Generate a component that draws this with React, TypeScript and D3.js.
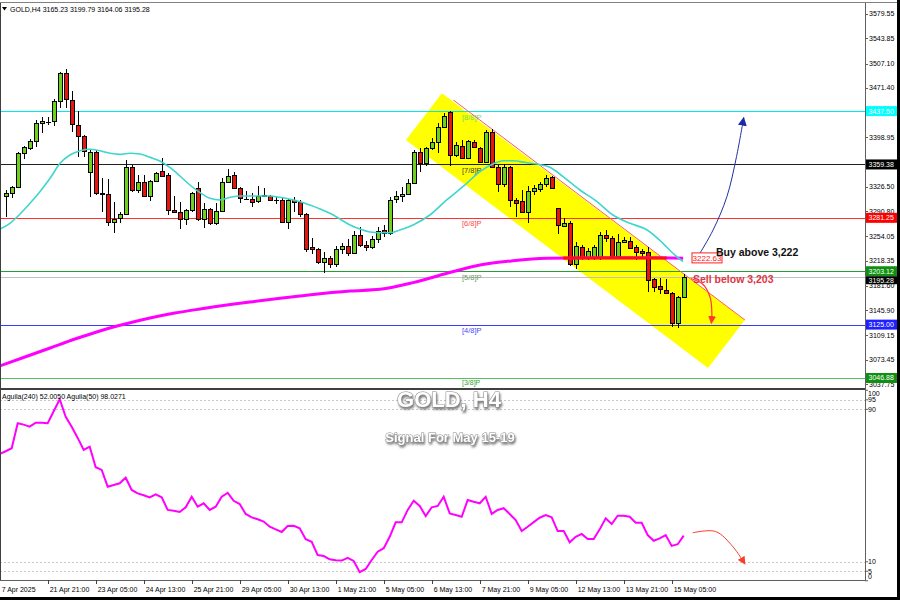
import * as d3 from "d3";

// H4 candles, bar 0 = 21 Apr 01:00 ... bar 113 = 15 May 13:00  [open, high, low, close]
const candles: [number, number, number, number][] = [
  [3313.2, 3322.0, 3283.0, 3318.1], [3318.1, 3327.9, 3309.9, 3325.9], [3326.8, 3378.1, 3325.4, 3375.7],
  [3375.7, 3386.4, 3367.8, 3384.5], [3383.9, 3396.2, 3380.6, 3393.7], [3393.3, 3424.4, 3385.4, 3419.6],
  [3419.6, 3428.4, 3405.0, 3422.5], [3422.0, 3428.4, 3416.7, 3421.5], [3422.5, 3455.6, 3415.7, 3451.8],
  [3451.8, 3495.1, 3441.5, 3493.7], [3493.7, 3498.6, 3441.5, 3454.7], [3453.7, 3467.3, 3407.3, 3418.1],
  [3417.1, 3437.6, 3370.7, 3401.0], [3401.0, 3402.0, 3370.7, 3379.5], [3347.9, 3380.6, 3311.3, 3378.1],
  [3378.1, 3380.6, 3314.7, 3317.2], [3317.5, 3339.1, 3290.3, 3316.8], [3316.2, 3337.6, 3269.8, 3274.8],
  [3274.8, 3304.9, 3258.7, 3279.6], [3280.6, 3290.3, 3273.3, 3286.9], [3286.9, 3365.9, 3285.4, 3356.1],
  [3356.1, 3358.6, 3319.5, 3322.0], [3322.0, 3344.0, 3317.2, 3334.1], [3334.1, 3344.0, 3311.2, 3313.2],
  [3313.2, 3336.6, 3306.4, 3335.6], [3335.6, 3348.8, 3334.1, 3347.3], [3349.8, 3369.3, 3341.5, 3342.9],
  [3344.0, 3346.4, 3285.4, 3292.8], [3292.8, 3313.2, 3287.9, 3290.3], [3290.3, 3304.9, 3264.5, 3279.1],
  [3279.1, 3294.2, 3270.8, 3292.8], [3292.8, 3319.0, 3290.3, 3318.1], [3324.5, 3334.1, 3276.6, 3279.1],
  [3279.1, 3302.5, 3265.9, 3293.8], [3293.8, 3295.2, 3270.8, 3273.3], [3273.3, 3302.5, 3270.8, 3291.3],
  [3291.3, 3339.1, 3290.3, 3334.1], [3334.1, 3352.3, 3332.7, 3342.9], [3344.0, 3347.9, 3323.0, 3324.5],
  [3325.4, 3326.8, 3303.4, 3309.9], [3308.8, 3320.5, 3307.4, 3308.4], [3308.4, 3317.2, 3297.6, 3304.9],
  [3305.9, 3328.3, 3302.5, 3313.2], [3313.2, 3325.4, 3311.3, 3314.7], [3313.2, 3314.7, 3305.9, 3307.4],
  [3307.4, 3312.2, 3301.6, 3306.9], [3307.4, 3312.2, 3273.3, 3274.8], [3274.8, 3308.4, 3264.9, 3307.4],
  [3307.4, 3312.2, 3290.3, 3304.0], [3304.0, 3307.4, 3283.0, 3286.9], [3286.9, 3287.9, 3231.7, 3235.7],
  [3238.2, 3251.3, 3227.9, 3235.2], [3235.2, 3236.7, 3213.7, 3216.2], [3216.2, 3231.7, 3200.1, 3222.1],
  [3222.1, 3225.0, 3208.0, 3213.7], [3213.7, 3240.0, 3210.0, 3235.0], [3235.0, 3245.0, 3228.0, 3240.0],
  [3240.0, 3250.0, 3225.0, 3230.0], [3230.0, 3262.0, 3228.0, 3256.0], [3256.0, 3268.0, 3238.0, 3242.0],
  [3242.0, 3248.0, 3232.0, 3238.0], [3238.0, 3255.0, 3235.0, 3250.0], [3250.0, 3268.0, 3245.0, 3262.0],
  [3263.5, 3270.8, 3253.7, 3258.7], [3258.7, 3311.3, 3256.2, 3307.4], [3308.4, 3321.0, 3303.4, 3313.2],
  [3313.2, 3326.8, 3304.9, 3316.2], [3316.2, 3337.6, 3314.7, 3332.7], [3332.7, 3380.6, 3331.8, 3378.1],
  [3378.1, 3383.0, 3348.8, 3361.1], [3361.1, 3385.4, 3357.1, 3383.0], [3383.0, 3397.6, 3380.6, 3392.7],
  [3392.7, 3419.6, 3376.6, 3413.8], [3413.8, 3434.2, 3412.3, 3430.3], [3436.6, 3438.0, 3357.1, 3373.2],
  [3373.2, 3392.7, 3370.7, 3387.9], [3386.4, 3395.2, 3368.4, 3369.3], [3369.3, 3395.2, 3368.4, 3393.7],
  [3392.7, 3395.2, 3383.0, 3384.5], [3383.0, 3385.4, 3362.0, 3363.4], [3363.4, 3409.8, 3362.0, 3407.3],
  [3407.3, 3410.8, 3353.8, 3356.1], [3355.2, 3358.6, 3319.5, 3330.8], [3330.8, 3360.0, 3326.8, 3355.2],
  [3355.2, 3357.1, 3297.6, 3307.4], [3307.4, 3309.9, 3283.0, 3303.4], [3305.9, 3322.0, 3288.8, 3290.3],
  [3290.3, 3327.9, 3274.2, 3321.0], [3321.0, 3329.3, 3314.7, 3324.5], [3323.5, 3334.1, 3319.5, 3330.3],
  [3330.3, 3344.0, 3325.9, 3339.1], [3340.6, 3342.5, 3323.0, 3324.5], [3295.2, 3295.2, 3257.7, 3270.8],
  [3269.3, 3280.6, 3268.0, 3274.2], [3274.2, 3277.1, 3211.3, 3213.7], [3213.7, 3246.4, 3206.0, 3240.1],
  [3239.0, 3241.5, 3219.6, 3222.1], [3222.1, 3236.7, 3219.6, 3233.2], [3222.1, 3241.5, 3219.6, 3239.0],
  [3222.1, 3261.0, 3219.6, 3256.2], [3256.2, 3263.5, 3246.4, 3252.2], [3252.2, 3254.7, 3224.4, 3225.9],
  [3225.9, 3257.7, 3224.4, 3246.4], [3245.5, 3253.7, 3244.5, 3248.8], [3247.8, 3253.7, 3235.2, 3237.6],
  [3238.2, 3241.5, 3219.6, 3231.7], [3232.7, 3235.2, 3224.4, 3230.2], [3230.8, 3239.0, 3173.2, 3190.4],
  [3191.3, 3192.8, 3173.2, 3180.5], [3181.5, 3192.8, 3169.8, 3176.7], [3175.7, 3191.3, 3169.8, 3170.8],
  [3170.8, 3173.2, 3121.9, 3127.8], [3127.8, 3167.4, 3119.5, 3165.0], [3165.23, 3199.79, 3164.06, 3195.28],
];

// 20-period MA (cyan), read at bar positions
const fastMaBars = [-1, 0.7, 2.4, 4.05, 5.7, 7.4, 9.05, 10.7, 12.4, 14.05, 15.7, 17.4, 19.05, 20.7, 22.4, 24.05, 25.7, 27.4, 29.05, 30.7, 32.4, 34.05, 35.7, 37.4, 39.05, 40.7, 42.4, 44.05, 45.7, 47.4, 49.05, 50.7, 52.4, 54.05, 55.7, 57.4, 59.05, 60.7, 62.4, 64.05, 65.7, 67.9, 70.7, 73.5, 76.2, 79.05, 81.2, 82.9, 84.55, 86.9, 88.55, 90.7, 92.9, 95.7, 98.55, 101.2, 104.05, 106.9, 109.55, 111.2, 112.9];
const fastMaVals = [3264.5, 3273.3, 3286.9, 3302.5, 3319.5, 3339.1, 3361.1, 3373.2, 3379.5, 3381.6, 3379.5, 3375.7, 3374.2, 3375.7, 3374.7, 3369.9, 3364.4, 3354.6, 3342.5, 3329.3, 3318.1, 3309.9, 3307.4, 3311.3, 3313.2, 3313.2, 3313.2, 3313.2, 3311.3, 3308.4, 3304.9, 3300.0, 3294.2, 3287.9, 3279.6, 3270.8, 3264.9, 3260.6, 3259.5, 3259.5, 3263.5, 3270.8, 3285.4, 3307.4, 3326.8, 3348.8, 3360.0, 3364.9, 3364.9, 3361.9, 3360.0, 3355.2, 3341.5, 3322.0, 3304.9, 3285.4, 3273.3, 3263.5, 3244.0, 3229.4, 3217.1];

// 240-period MA (magenta)
const slowMaBars = [-1, 3.2, 7.4, 11.55, 15.7, 19.9, 24.05, 28.2, 32.4, 40.7, 49.05, 57.4, 62.4, 67.9, 73.55, 79.05, 84.55, 90.2, 99.05, 107.4, 112.9];
const slowMaVals = [3064.5, 3077.6, 3090.8, 3103.9, 3115.7, 3125.9, 3134.7, 3142.0, 3147.9, 3158.1, 3166.9, 3174.2, 3176.7, 3186.4, 3200.1, 3212.3, 3218.5, 3222.0, 3222.9, 3222.9, 3222.2];

// Aguila oscillator, first value is bar -1
const aguilaStart = -1;
const aguila = [66.6, 68.0, 69.6, 82.7, 82.0, 80.9, 83.0, 83.0, 82.7, 89.0, 95.3, 86.1, 80.9, 75.0, 68.7, 70.4, 59.6, 58.2, 49.4, 50.3, 51.2, 54.1, 47.7, 45.9, 44.9, 43.8, 45.4, 43.8, 37.2, 36.8, 36.1, 38.6, 44.1, 38.9, 40.7, 37.2, 38.9, 44.1, 46.2, 42.0, 40.3, 35.1, 33.3, 32.3, 31.1, 28.4, 27.0, 25.6, 28.8, 28.9, 27.6, 21.8, 20.5, 13.5, 13.0, 11.3, 10.8, 10.6, 12.1, 10.4, 4.5, 6.2, 10.9, 15.3, 17.1, 23.1, 30.7, 30.7, 37.2, 42.0, 39.3, 34.0, 38.6, 39.3, 44.1, 35.4, 34.5, 33.6, 42.4, 41.5, 40.7, 44.1, 35.1, 37.2, 38.1, 35.1, 31.9, 26.1, 28.4, 30.8, 33.1, 34.5, 33.3, 26.1, 26.1, 20.2, 23.1, 24.6, 21.9, 21.9, 27.0, 32.8, 29.8, 34.2, 34.2, 33.6, 30.5, 30.5, 24.0, 21.0, 22.3, 24.0, 18.3, 19.2, 23.7];

// Murrey math levels
const levelVals = [3437.5, 3359.38, 3281.25, 3203.12, 3125.0, 3046.88];
const levelNames = ["[8/8]P", "[7/8]P", "[6/8]P", "[5/8]P", "[4/8]P", "[3/8]P"];
const levelLine = ["#00e8f0", "#202020", "#ff3030", "#23a035", "#3a3aff", "#58c058"];
const levelText = ["#6fe05a", "#404040", "#ff4a4a", "#6a9a6a", "#4848ff", "#30a030"];
const levelTag = ["#00ffff", "#000000", "#ff0000", "#109010", "#2020ff", "#109010"];

const bidPrice = 3195.28;
const maPrice = 3222.63;
const maLineBars = [92.9, 110.2];

const priceTicks = [3579.55, 3543.85, 3507.1, 3471.4, 3398.95, 3326.5, 3290.8, 3254.05, 3218.35, 3181.6, 3145.9, 3109.15, 3073.45, 3037.75];
const indTicks = [100, 95, 90, 10, 5, 0];
const indDotted = [95, 90, 10, 5];

const timeBars = [-1, 7, 15, 23, 31, 39, 47, 55, 63, 71, 79, 87, 95, 103, 111];
const timeLabels = ["7 Apr 2025", "21 Apr 21:00", "23 Apr 05:00", "24 Apr 13:00", "25 Apr 21:00", "29 Apr 05:00", "30 Apr 13:00", "1 May 21:00", "5 May 05:00", "6 May 13:00", "7 May 21:00", "9 May 05:00", "12 May 13:00", "13 May 21:00", "15 May 05:00"];

// annotations in (bar, price) space
const channel: [number, number][] = [[72.7, 3463.5], [123.2, 3131.8], [117.05, 3061.5], [66.7, 3395.1]];
const channelEdge: [number, number][] = [[74.6, 3453.7], [123.2, 3131.8]];
const buyArrow: [number, number][] = [[115.7, 3229.4], [117.9, 3263.5], [120.2, 3312.2], [121.8, 3370.7], [123.0, 3428.0]];
const sellArrow: [number, number][] = [[114.2, 3192.5], [116.2, 3184.0], [117.4, 3165.0], [117.7, 3140.0], [117.6, 3127.0]];
const indArrow: [number, number][] = [[114.5, 25.2], [118.3, 25.9], [121.2, 17.9], [123.2, 8.8]];

const FONT = "'Liberation Sans', Arial, sans-serif";

export default function App() {
  const x = d3.scaleLinear().domain([0, 100]).range([5.7, 605.7]);
  const y = d3.scaleLinear().domain([3579.55, 3046.88]).range([14, 378]);
  const yi = d3.scaleLinear().domain([0, 100]).range([580.8, 390.3]);
  const plotRight = 865;

  const maLine = d3.line<[number, number]>().x(d => x(d[0])).y(d => y(d[1])).curve(d3.curveMonotoneX);
  const indLine = d3.line<number>().x((_, i) => x(i + aguilaStart)).y(d => yi(d));
  const arrowLine = d3.line<[number, number]>().x(d => x(d[0])).y(d => y(d[1])).curve(d3.curveCatmullRom);
  const indArrowLine = d3.line<[number, number]>().x(d => x(d[0])).y(d => yi(d[1])).curve(d3.curveCatmullRom);

  const fastMa = fastMaBars.map((b, i) => [b, fastMaVals[i]] as [number, number]);
  const slowMa = slowMaBars.map((b, i) => [b, slowMaVals[i]] as [number, number]);

  const bodyW = 4;
  const tag5 = y(levelVals[3]);

  return (
    <svg width={900} height={600} style={{ position: "absolute", left: 0, top: 0, background: "#fff" }} fontFamily={FONT}>
      <defs>
        <clipPath id="mainClip"><rect x={1} y={3} width={plotRight - 1} height={385} /></clipPath>
        <clipPath id="indClip"><rect x={1} y={390} width={plotRight - 1} height={190} /></clipPath>
        <filter id="shadow" x="-10%" y="-30%" width="120%" height="160%">
          <feDropShadow dx="1" dy="2" stdDeviation="0.8" floodColor="#555" floodOpacity="0.8" />
        </filter>
        <marker id="headBlue" viewBox="0 0 10 10" refX="9" refY="5" markerWidth="9" markerHeight="9" markerUnits="userSpaceOnUse" orient="auto">
          <path d="M0,0 L10,5 L0,10 z" fill="#1c2aa8" />
        </marker>
        <marker id="headRed" viewBox="0 0 10 10" refX="9" refY="5" markerWidth="8" markerHeight="8" markerUnits="userSpaceOnUse" orient="auto">
          <path d="M0,0 L10,5 L0,10 z" fill="#ff3a2a" />
        </marker>
      </defs>

      {/* main panel */}
      <g clipPath="url(#mainClip)">
        <polygon points={channel.map(d => `${x(d[0])},${y(d[1])}`).join(" ")} fill="#ffff00" />
        {levelVals.map((v, i) => (
          <line key={"lv" + i} x1={0} x2={plotRight} y1={Math.round(y(v)) + 0.5} y2={Math.round(y(v)) + 0.5} stroke={levelLine[i]} strokeWidth={1} />
        ))}
        <line x1={0} x2={plotRight} y1={Math.round(y(bidPrice)) + 0.5} y2={Math.round(y(bidPrice)) + 0.5} stroke="#c0c0c0" />
        {levelVals.map((v, i) => (
          <text key={"ln" + i} x={462} y={y(v) + (i === 5 ? 6.5 : 8.5)} fontSize={i === 5 ? 7 : 7.5} fill={levelText[i]}>{levelNames[i]}</text>
        ))}
        <path d={channelEdge.map((d, i) => `${i ? "L" : "M"}${x(d[0])},${y(d[1])}`).join("")} stroke="#ff5a5a" strokeWidth={1} fill="none" />

        {candles.map(([o, h, l, c], i) => {
          const cx = Math.round(x(i)) + 0.5;
          const up = c >= o;
          const top = Math.round(y(Math.max(o, c)));
          const bot = Math.round(y(Math.min(o, c)));
          return (
            <g key={"c" + i} shapeRendering="crispEdges">
              <line x1={cx} x2={cx} y1={y(h)} y2={y(l)} stroke="#000" />
              {bot - top < 1 ? (
                <line x1={cx - 2.5} x2={cx + 2.5} y1={top + 0.5} y2={top + 0.5} stroke="#000" />
              ) : (
                <rect x={cx - bodyW / 2} y={top + 0.5} width={bodyW} height={bot - top} fill={up ? "#6fd11d" : "#e8140e"} stroke="#000" strokeWidth={1} />
              )}
            </g>
          );
        })}

        <path d={maLine(slowMa) ?? ""} fill="none" stroke="#ff00ff" strokeWidth={3} />
        <path d={maLine(fastMa) ?? ""} fill="none" stroke="#3ed6cc" strokeWidth={1.6} />
        <line x1={x(maLineBars[0])} x2={x(maLineBars[1])} y1={y(maPrice)} y2={y(maPrice)} stroke="#ff1010" strokeWidth={3} />

        <path d={arrowLine(buyArrow) ?? ""} fill="none" stroke="#2232a0" strokeWidth={1} markerEnd="url(#headBlue)" />
        <path d={arrowLine(sellArrow) ?? ""} fill="none" stroke="#ff3a2a" strokeWidth={1.2} markerEnd="url(#headRed)" />

        <rect x={692} y={y(maPrice) - 5} width={30} height={10} fill="#fff" stroke="#ff2020" />
        <text x={707} y={y(maPrice)} dy="0.35em" fontSize={8} fill="#ff2020" textAnchor="middle">{maPrice.toFixed(2)}</text>

        <text x={716} y={256} fontSize={10.5} fontWeight="bold" fill="#111">Buy above 3,222</text>
        <text x={693} y={283} fontSize={10.5} fontWeight="bold" fill="#e03545">Sell below 3,203</text>
      </g>

      {/* header */}
      <path d="M2,7 L7,7 L4.5,10.5 z" fill="#000" />
      <text x={10} y={11.5} fontSize={7} fill="#000">GOLD,H4  3165.23 3199.79 3164.06 3195.28</text>

      {/* indicator panel */}
      <g clipPath="url(#indClip)">
        {indDotted.map(v => (
          <line key={"d" + v} x1={0} x2={plotRight} y1={Math.round(yi(v)) + 0.5} y2={Math.round(yi(v)) + 0.5} stroke="#c8c8c8" strokeDasharray="2,2" />
        ))}
        <path d={indLine(aguila) ?? ""} fill="none" stroke="#ff00ff" strokeWidth={2} />
        <path d={indArrowLine(indArrow) ?? ""} fill="none" stroke="#ff3a2a" strokeWidth={1} markerEnd="url(#headRed)" />
      </g>
      <text x={2} y={399} fontSize={7} fill="#000">Aguila(240) 52.0050   Aguila(50) 98.0271</text>

      {/* big titles */}
      <text x={449} y={407} textAnchor="middle" fontSize={22} fontWeight="bold" fill="#fff" stroke="#8a8a8a" strokeWidth={1} paintOrder="stroke" filter="url(#shadow)">GOLD, H4</text>
      <text x={450} y={442} textAnchor="middle" fontSize={13} fontWeight="bold" fill="#fff" stroke="#8a8a8a" strokeWidth={0.9} paintOrder="stroke" filter="url(#shadow)">Signal For May 15-19</text>

      {/* frames */}
      <g shapeRendering="crispEdges">
        <line x1={0} x2={900} y1={2.5} y2={2.5} stroke="#808080" />
        <line x1={0.5} x2={0.5} y1={2.5} y2={580.5} stroke="#404040" />
        <line x1={0} x2={plotRight} y1={388.5} y2={388.5} stroke="#404040" strokeWidth={2} />
        <line x1={0} x2={plotRight} y1={580.5} y2={580.5} stroke="#606060" />
        <line x1={plotRight + 0.5} x2={plotRight + 0.5} y1={2.5} y2={580.5} stroke="#606060" />
        <line x1={898} x2={898} y1={0} y2={600} stroke="#000" strokeWidth={3} />
        <line x1={0} x2={900} y1={598.5} y2={598.5} stroke="#000" strokeWidth={3} />
      </g>

      {/* price axis */}
      {priceTicks.map(v => (
        <g key={"pt" + v}>
          <line x1={plotRight} x2={plotRight + 3} y1={Math.round(y(v)) + 0.5} y2={Math.round(y(v)) + 0.5} stroke="#606060" />
          <text x={869} y={y(v)} dy="0.35em" fontSize={7} fill="#000">{v.toFixed(2)}</text>
        </g>
      ))}
      {levelVals.map((v, i) => (
        <g key={"tag" + i}>
          <rect x={866} y={y(v) - 5} width={31} height={10} fill={levelTag[i]} />
          <text x={868.5} y={y(v)} dy="0.35em" fontSize={7} fill="#fff">{v.toFixed(2)}</text>
        </g>
      ))}
      <rect x={866} y={tag5 + 5} width={31} height={8} fill="#000" />
      <text x={868.5} y={tag5 + 9} dy="0.35em" fontSize={7} fill="#fff">{bidPrice.toFixed(2)}</text>

      {/* indicator axis */}
      {indTicks.map(v => (
        <g key={"it" + v}>
          <line x1={plotRight} x2={plotRight + 3} y1={yi(v)} y2={yi(v)} stroke="#606060" />
          <text x={868} y={Math.min(577, Math.max(394, yi(v)))} dy="0.35em" fontSize={7} fill="#000">{v}</text>
        </g>
      ))}

      {/* time axis */}
      {timeBars.map((b, i) => (
        <g key={"tb" + i}>
          {i > 0 && <line x1={Math.round(x(b)) + 0.5} x2={Math.round(x(b)) + 0.5} y1={580} y2={584} stroke="#404040" />}
          <text x={Math.max(1.5, x(b) + 2)} y={592} fontSize={7} fill="#000">{timeLabels[i]}</text>
        </g>
      ))}
    </svg>
  );
}
